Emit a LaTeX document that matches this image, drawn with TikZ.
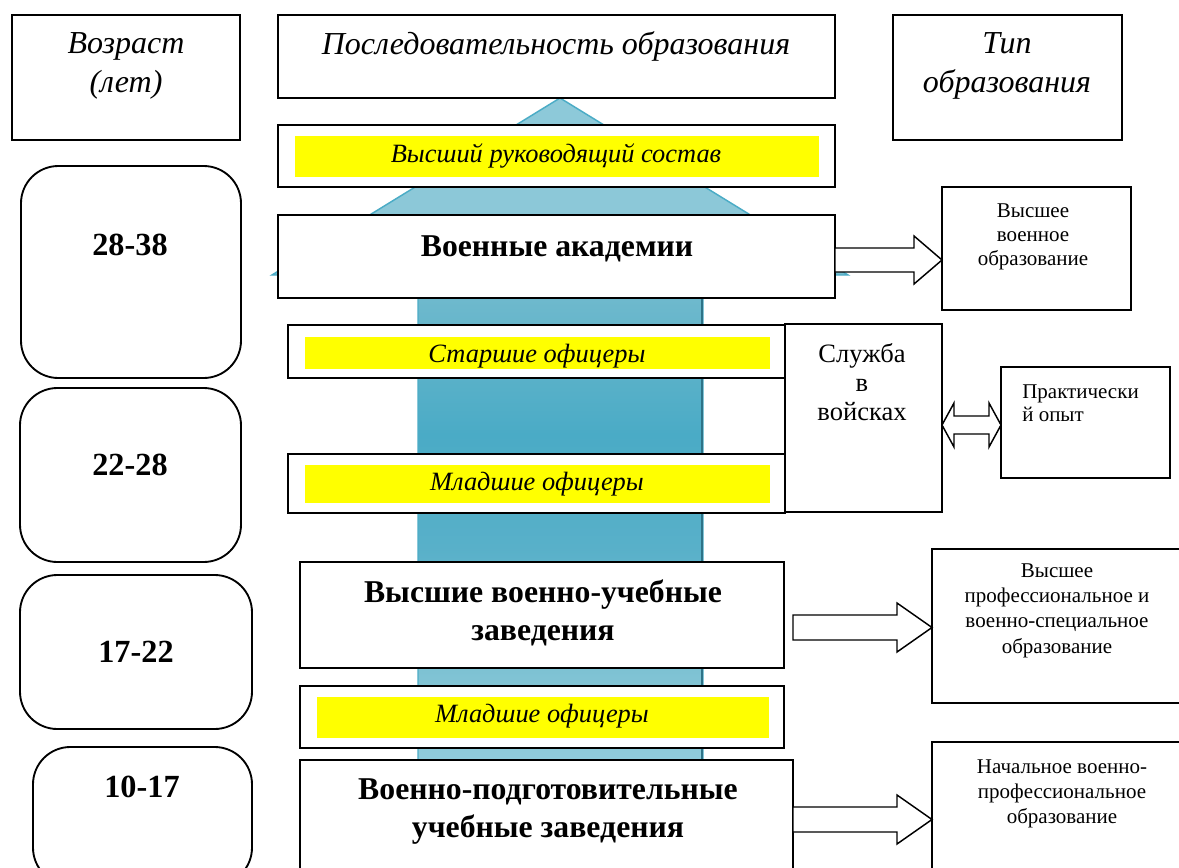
\documentclass[tikz,border=0pt]{standalone}
\usepackage{fontspec}
\setmainfont{Liberation Serif}
\usetikzlibrary{calc}
\definecolor{aqL}{HTML}{92CDDC}
\definecolor{aqA}{HTML}{84C5D5}
\definecolor{aqB}{HTML}{58B0C9}
\definecolor{aqD}{HTML}{4AABC6}
\definecolor{aqC}{HTML}{6CB8CC}
\definecolor{aqF}{HTML}{8CC8D8}
\definecolor{aqE}{HTML}{4BACC6}
\definecolor{aqS}{HTML}{2E7387}
\definecolor{yel}{HTML}{FFFF00}
\pgfdeclareverticalshading{arrowsh}{100bp}{color(0bp)=(aqL); color(33bp)=(aqL); color(38bp)=(aqA); color(47bp)=(aqB); color(54bp)=(aqD); color(62bp)=(aqC); color(68bp)=(aqF); color(100bp)=(aqL)}
\tikzset{
  box/.style={draw=black, fill=white, line width=1.4pt, rectangle, inner sep=0pt, outer sep=0pt},
  rbox/.style={box, fill=none, rounded corners=28pt},
  ybox/.style={fill=yel, draw=none, rectangle, inner sep=0pt, outer sep=0pt},
  blk/.style={draw=black, fill=white, line width=1.1pt, line join=miter},
  hdr/.style={font=\fontsize{24pt}{29.25pt}\selectfont\itshape, align=center, anchor=base, inner sep=0pt},
  yit/.style={font=\fontsize{19.8pt}{22pt}\selectfont\itshape, anchor=base, inner sep=0pt},
  big/.style={font=\fontsize{23.8pt}{28.5pt}\selectfont\bfseries, align=center, anchor=base, inner sep=0pt},
  age/.style={font=\fontsize{24.2pt}{28pt}\selectfont\bfseries, anchor=base, inner sep=0pt},
  sml/.style={font=\fontsize{15.75pt}{18.75pt}\selectfont, align=center, anchor=base, inner sep=0pt},
}
\newcommand\mkbox[6][box]{\node[#1, minimum width={(#4-#2)*0.75pt}, minimum height={(#5-#3)*0.75pt}] (#6) at ({(#2+#4)/2},{(#3+#5)/2}) {};}
\newcommand\blockarrow[5]{\draw[blk] ($(#1)+(0,-#3)$) -- ($(#2)+(-#5,-#3)$) -- ($(#2)+(-#5,-#4)$) -- (#2) -- ($(#2)+(-#5,#4)$) -- ($(#2)+(-#5,#3)$) -- ($(#1)+(0,#3)$) -- cycle;}
\newcommand\dblarrow[5]{\draw[blk] (#1) -- ($(#1)+(#5,-#4)$) -- ($(#1)+(#5,-#3)$) -- ($(#2)+(-#5,-#3)$) -- ($(#2)+(-#5,-#4)$) -- (#2) -- ($(#2)+(-#5,#4)$) -- ($(#2)+(-#5,#3)$) -- ($(#1)+(#5,#3)$) -- ($(#1)+(#5,#4)$) -- cycle;}
\begin{document}
\begin{tikzpicture}[x=0.75pt,y=-0.75pt]
\useasboundingbox (0,0) rectangle (1179,868);
\clip (0,0) rectangle (1179,868);
\fill[white] (0,0) rectangle (1179,868);
% big upward arrow
\path[shading=arrowsh, draw=aqE, line width=1.1pt] (560,98) -- (848,275) -- (703,275) -- (703,900) -- (418,900) -- (418,275) -- (272,275) -- cycle;
\draw[aqS, line width=2pt] (702,276) -- (702,900);
% header boxes
\mkbox{12}{15}{240}{140}{hage}
\mkbox{278}{15}{835}{98}{hseq}
\mkbox{893}{15}{1122}{140}{htype}
\node[hdr] (hage-t) at (126,92) {Возраст\\(лет)};
\node[hdr] (hseq-t) at (556,54) {Последовательность образования};
\node[hdr] (htype-t) at (1007,92) {Тип\\образования};
% age boxes
\mkbox[rbox]{21}{166}{241}{378}{ag1}
\mkbox[rbox]{20}{388}{241}{562}{ag2}
\mkbox[rbox]{20}{575}{252}{729}{ag3}
\mkbox[rbox]{33}{747}{252}{885}{ag4}
\node[age] (ag1-t) at (130,255) {28-38};
\node[age] (ag2-t) at (130,475) {22-28};
\node[age] (ag3-t) at (136,662) {17-22};
\node[age] (ag4-t) at (142,797) {10-17};
% sequence boxes
\mkbox{278}{125}{835}{187}{top}
\mkbox[ybox]{295}{136}{819}{177}{topy}
\node[yit] (top-t) at (556,162) {Высший руководящий состав};
\mkbox{278}{215}{835}{298}{acad}
\node[big] (acad-t) at (557,256) {Военные академии};
\mkbox{288}{325}{785}{378}{sen}
\mkbox[ybox]{305}{337}{770}{369}{seny}
\node[yit] (sen-t) at (537,362) {Старшие офицеры};
\mkbox{288}{454}{785}{513}{jun}
\mkbox[ybox]{305}{465}{770}{503}{juny}
\node[yit] (jun-t) at (537,490) {Младшие офицеры};
\mkbox{785}{324}{942}{512}{svc}
\node[font=\fontsize{19.9pt}{21.75pt}\selectfont, align=center, anchor=base, inner sep=0pt] (svc-t) at (862,420) {Служба\\в\\войсках};
\mkbox{300}{562}{784}{668}{vvuz}
\node[big] (vvuz-t) at (543,640) {Высшие военно-учебные\\заведения};
\mkbox{300}{686}{784}{748}{jun2}
\mkbox[ybox]{317}{697}{769}{738}{jun2y}
\node[yit] (jun2-t) at (542,722) {Младшие офицеры};
\mkbox{300}{760}{793}{890}{vpuz}
\node[big] (vpuz-t) at (548,837) {Военно-подготовительные\\учебные заведения};
% right boxes
\mkbox{942}{187}{1131}{310}{r1}
\node[sml, font=\fontsize{15.75pt}{18pt}\selectfont] (r1-t) at (1033,265) {Высшее\\военное\\образование};
\mkbox{1001}{367}{1170}{478}{prak}
\node[font=\fontsize{15.75pt}{17.25pt}\selectfont, align=left, anchor=base west, inner sep=0pt] (prak-t) at (1022,421) {Практически\\й опыт};
\mkbox{932}{549}{1190}{703}{r2}
\node[sml, font=\fontsize{15.75pt}{19pt}\selectfont] (r2-t) at (1057,653) {Высшее\\профессиональное и\\военно-специальное\\образование};
\mkbox{932}{742}{1190}{890}{r3}
\node[sml] (r3-t) at (1062,823) {Начальное военно-\\профессиональное\\образование};
% block arrows
\coordinate (ya1) at (0,260);
\coordinate (a1s) at (acad.east |- ya1);
\coordinate (a1e) at (r1.west |- ya1);
\blockarrow{a1s}{a1e}{12}{24}{28}
\coordinate (ya2) at (0,425);
\coordinate (a2s) at (svc.east |- ya2);
\coordinate (a2e) at (prak.west |- ya2);
\dblarrow{a2s}{a2e}{9}{22}{12}
\coordinate (a3s) at (793,627.5);
\coordinate (a3e) at (r2.west |- a3s);
\blockarrow{a3s}{a3e}{12.5}{24.5}{35}
\coordinate (ya4) at (0,819.5);
\coordinate (a4s) at (vpuz.east |- ya4);
\coordinate (a4e) at (r3.west |- ya4);
\blockarrow{a4s}{a4e}{12.5}{24.5}{35}
\end{tikzpicture}
\end{document}
